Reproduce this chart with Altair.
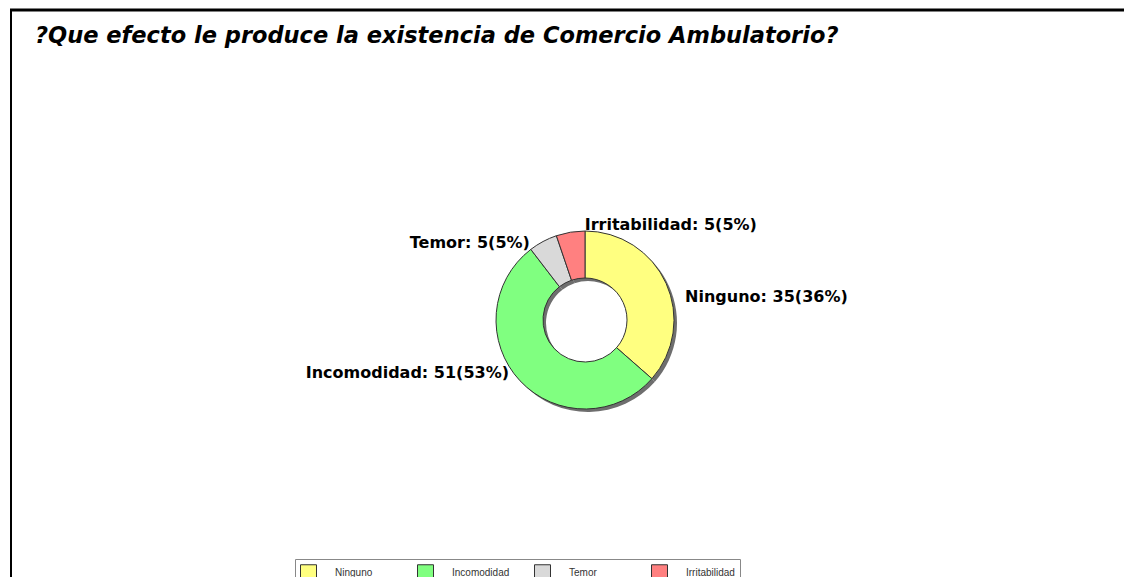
import math
import altair as alt
import pandas as pd

categories = ["Ninguno", "Incomodidad", "Temor", "Irritabilidad"]
counts = [35, 51, 5, 5]
colors = ["#FFFF80", "#80FF80", "#D9D9D9", "#FF8080"]
title_text = "?Que efecto le produce la existencia de Comercio Ambulatorio?"

total = sum(counts)
df = pd.DataFrame({"cat": categories, "n": counts})
df["end"] = df["n"].cumsum()
df["start"] = df["end"] - df["n"]
df["mid"] = df["start"] + df["n"] / 2
df["label"] = [f"{c}: {n}({round(100 * n / total)}%)" for c, n in zip(categories, counts)]

W, H = 1074, 514
PL, PT = 40, 55
FONT = "Liberation Sans"
BOLD_FONT = "DejaVu Sans"

theta_scale = alt.Scale(domain=[0, total], range=[0, 2 * math.pi])
base = alt.Chart(df)

shadow = base.mark_arc(outerRadius=89, innerRadius=42, color="#6e6e6e").encode(
    theta=alt.Theta("start:Q", scale=theta_scale),
    theta2="end:Q",
    x=alt.value(W / 2 + 3),
    y=alt.value(H / 2 + 3),
)

arcs = base.mark_arc(outerRadius=89, innerRadius=42, stroke="#333333", strokeWidth=1).encode(
    theta=alt.Theta("start:Q", scale=theta_scale),
    theta2="end:Q",
    x=alt.value(W / 2),
    y=alt.value(H / 2),
    color=alt.Color(
        "cat:N",
        scale=alt.Scale(domain=categories, range=colors),
        legend=alt.Legend(
            orient="none", legendX=247, legendY=496, direction="horizontal",
            columns=4, title=None, symbolType="square", symbolSize=256,
            symbolStrokeColor="#333333", symbolStrokeWidth=1, symbolOpacity=1,
            labelFont=FONT, labelFontSize=10, labelColor="#333333",
            labelOffset=18, columnPadding=22, gridAlign="all", padding=5,
            strokeColor="#888888", fillColor="white",
        ),
    ),
)

label_specs = {
    "Ninguno": ("left", 9, 18),
    "Incomodidad": ("right", -3, -15),
    "Temor": ("right", -8, 11),
    "Irritabilidad": ("left", 16, 4),
}
label_layers = []
for cat, (al, dx, dy) in label_specs.items():
    label_layers.append(
        base.transform_filter(alt.datum.cat == cat)
        .mark_text(radius=100, align=al, baseline="middle", dx=dx, dy=dy,
                   font=BOLD_FONT, fontSize=16, fontWeight="bold", color="black")
        .encode(theta=alt.Theta("mid:Q", scale=theta_scale), text="label:N")
    )

frame_df = pd.DataFrame({"title": [title_text]})
top_line = alt.Chart(frame_df).mark_rule(color="black", strokeWidth=3).encode(
    x=alt.value(-38), x2=alt.value(W + 2), y=alt.value(-53)
)
left_line = alt.Chart(frame_df).mark_rule(color="black", strokeWidth=2).encode(
    x=alt.value(-37), y=alt.value(-54), y2=alt.value(H + 2)
)
title_mark = alt.Chart(frame_df).mark_text(
    align="left", baseline="alphabetic", font=BOLD_FONT, fontSize=22.5,
    fontStyle="italic", fontWeight="bold", color="black",
).encode(text="title:N", x=alt.value(-13), y=alt.value(-20))

chart = alt.layer(top_line, left_line, title_mark, shadow, arcs, *label_layers).properties(
    width=W,
    height=H,
    autosize=alt.AutoSizeParams(type="none"),
    padding={"left": PL, "top": PT, "right": 2, "bottom": 0},
    background="white",
).configure_view(stroke=None)

chart.save("out.html", embed_options={"renderer": "svg", "actions": False})
